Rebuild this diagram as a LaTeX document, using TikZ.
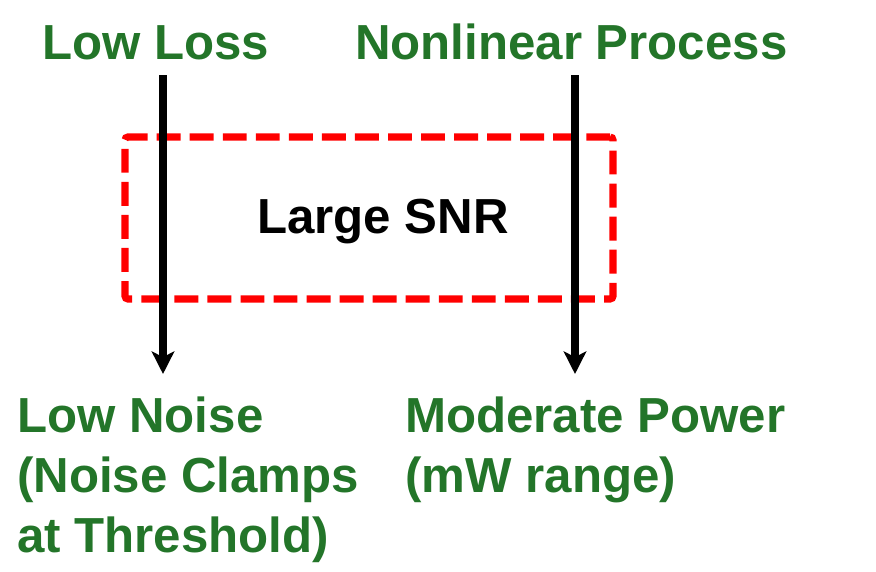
\documentclass[tikz,border=0pt]{standalone}
\usepackage{fontspec}
\setmainfont{Liberation Sans}
\usetikzlibrary{arrows.meta}
\definecolor{leafgreen}{RGB}{35,117,41}
\begin{document}
\begin{tikzpicture}[x=0.025cm, y=-0.025cm,
    lbl/.style={inner sep=0pt, font=\fontsize{35}{42.5}\selectfont\bfseries, text=leafgreen},
    flow/.style={line width=5.7pt, -{Stealth[length=16pt, width=16pt, inset=4pt]}},
    zone/.style={draw=red, line width=5pt, dash pattern=on 17pt off 6.5pt, rounded corners=2pt}]
  \useasboundingbox (0,0) rectangle (876,572);
  \node[lbl, anchor=base west] (lowloss) at (42,59) {Low Loss};
  \node[lbl, anchor=base west] (nonlin) at (355,59) {Nonlinear Process};
  \node[zone, minimum width=488*0.025cm, minimum height=162*0.025cm] (snr) at (369,218) {};
  \node[inner sep=0pt, anchor=base west, font=\fontsize{35}{42.5}\selectfont\bfseries] (snrtext) at (257,233) {Large SNR};
  \node[lbl, anchor=north west, align=left] (lownoise) at (17,397) {Low Noise\\(Noise Clamps\\at Threshold)};
  \node[lbl, anchor=north west, align=left] (modpower) at (405,397) {Moderate Power\\(mW range)};
  \coordinate (lossTop) at (163,75);
  \coordinate (lossEnd) at (163,374);
  \coordinate (nonTop) at (575,75);
  \coordinate (nonEnd) at (575,374);
  \draw[flow] (lossTop) -- (lossEnd);
  \draw[flow] (nonTop) -- (nonEnd);
\end{tikzpicture}
\end{document}
